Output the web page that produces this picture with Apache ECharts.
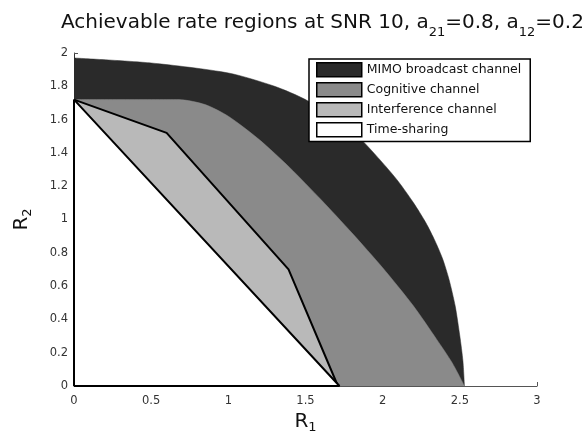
<!DOCTYPE html>
<html>
<head>
<meta charset="utf-8">
<script src="https://cdn.jsdelivr.net/npm/echarts@6/dist/echarts.min.js"></script>
<style>
  html, body { margin: 0; padding: 0; background: #ffffff; }
  #chart { width: 585px; height: 432px; }
</style>
</head>
<body>
<div id="chart"></div>
<script>
// Region names (legend order)
const regionNames = ['MIMO broadcast channel', 'Cognitive channel', 'Interference channel', 'Time-sharing'];

// Outer boundary of each achievable region, as [R1, R2] pairs
const mimoBoundary = [
  [0, 1.97], [0.5, 1.94], [1.0, 1.88], [1.3, 1.80], [1.5, 1.72], [1.7, 1.60],
  [1.85, 1.49], [2.0, 1.34], [2.1, 1.23], [2.2, 1.10], [2.28, 0.98], [2.34, 0.87],
  [2.39, 0.76], [2.43, 0.64], [2.47, 0.48], [2.5, 0.30], [2.52, 0.15], [2.53, 0]
];
const cognitiveBoundary = [
  [0, 1.72], [0.68, 1.72], [0.85, 1.69], [1.0, 1.62], [1.2, 1.48], [1.4, 1.31],
  [1.6, 1.12], [1.8, 0.92], [2.0, 0.71], [2.2, 0.48], [2.35, 0.28], [2.45, 0.14], [2.53, 0]
];
const interferenceBoundary = [
  [0, 1.72], [0.6, 1.52], [1.39, 0.70], [1.71, 0]
];
const timeSharingBoundary = [
  [0, 0], [0, 1.72], [1.72, 0], [0, 0]
];

// Axis ranges and tick steps
const r1Axis = { min: 0, max: 3, step: 0.5 };
const r2Axis = { min: 0, max: 2, step: 0.2 };

const fills = ['#2a2a2a', '#8a8a8a', '#b9b9b9', '#ffffff'];
const boundaries = [mimoBoundary, cognitiveBoundary, interferenceBoundary, timeSharingBoundary];
const outlined = [false, false, true, true];
const curved = [true, true, false, false];

const FONT = 'DejaVu Sans, Verdana, sans-serif';

const chart = echarts.init(document.getElementById('chart'), null, { renderer: 'canvas' });

const series = regionNames.map((name, i) => ({
  name: name,
  type: 'line',
  data: boundaries[i],
  symbol: 'none',
  clip: false,
  animation: false,
  silent: true,
  smooth: curved[i] ? 0.25 : false,
  z: 2 + i,
  itemStyle: { color: fills[i] },
  lineStyle: outlined[i]
    ? { color: '#000000', width: 2 }
    : { color: fills[i], width: 0.5 },
  areaStyle: { color: fills[i], opacity: 1 }
}));

const tickFont = { fontFamily: FONT, fontSize: 11.5, color: '#333333' };
const nameRich = {
  r: { fontFamily: FONT, fontSize: 20, color: '#111111', lineHeight: 24 },
  s: { fontFamily: FONT, fontSize: 13, color: '#111111', lineHeight: 12, verticalAlign: 'bottom' }
};

const option = {
  backgroundColor: '#ffffff',
  animation: false,
  title: {
    left: 56,
    top: 2,
    text: '{n|Achievable rate regions at SNR 10, a}{s|21}{n|=0.8, a}{s|12}{n|=0.2}',
    textStyle: {
      fontWeight: 'normal',
      rich: {
        n: { fontFamily: FONT, fontSize: 20, fontWeight: 'normal', color: '#111111', lineHeight: 32 },
        s: { fontFamily: FONT, fontSize: 13, fontWeight: 'normal', color: '#111111', lineHeight: 12, verticalAlign: 'bottom' }
      }
    }
  },
  legend: {
    orient: 'vertical',
    left: 309,
    top: 59,
    padding: [3, 9, 4, 7],
    itemWidth: 45,
    itemHeight: 14,
    itemGap: 4.5,
    itemTextGap: 6,
    icon: 'rect',
    backgroundColor: '#ffffff',
    borderColor: '#000000',
    borderWidth: 1.5,
    selectedMode: false,
    textStyle: { fontFamily: FONT, fontSize: 12.5, color: '#111111' },
    data: regionNames.map((name, i) => ({
      name: name,
      icon: 'rect',
      itemStyle: { color: fills[i], borderColor: '#000000', borderWidth: 1.5 }
    }))
  },
  grid: { left: 74, right: 48, top: 53, bottom: 46, containLabel: false, outerBoundsMode: 'none' },
  xAxis: {
    type: 'value',
    min: r1Axis.min,
    max: r1Axis.max,
    interval: r1Axis.step,
    name: '{r|R}{s|1}',
    nameLocation: 'middle',
    nameGap: 21,
    nameTextStyle: { rich: nameRich },
    axisLine: { show: true, lineStyle: { color: '#555555', width: 1 } },
    axisTick: { show: true, inside: true, length: 4, lineStyle: { color: '#555555' } },
    axisLabel: Object.assign({ margin: 9 }, tickFont),
    splitLine: { show: false }
  },
  yAxis: {
    type: 'value',
    min: r2Axis.min,
    max: r2Axis.max,
    interval: r2Axis.step,
    name: '{r|R}{s|2}',
    nameLocation: 'middle',
    nameRotate: 90,
    nameGap: 40,
    nameTextStyle: { rich: nameRich },
    axisLine: { show: true, lineStyle: { color: '#333333', width: 1 } },
    axisTick: { show: true, inside: true, length: 4, lineStyle: { color: '#555555' } },
    axisLabel: Object.assign({ margin: 6 }, tickFont),
    splitLine: { show: false }
  },
  series: series
};

chart.setOption(option);
</script>
</body>
</html>
